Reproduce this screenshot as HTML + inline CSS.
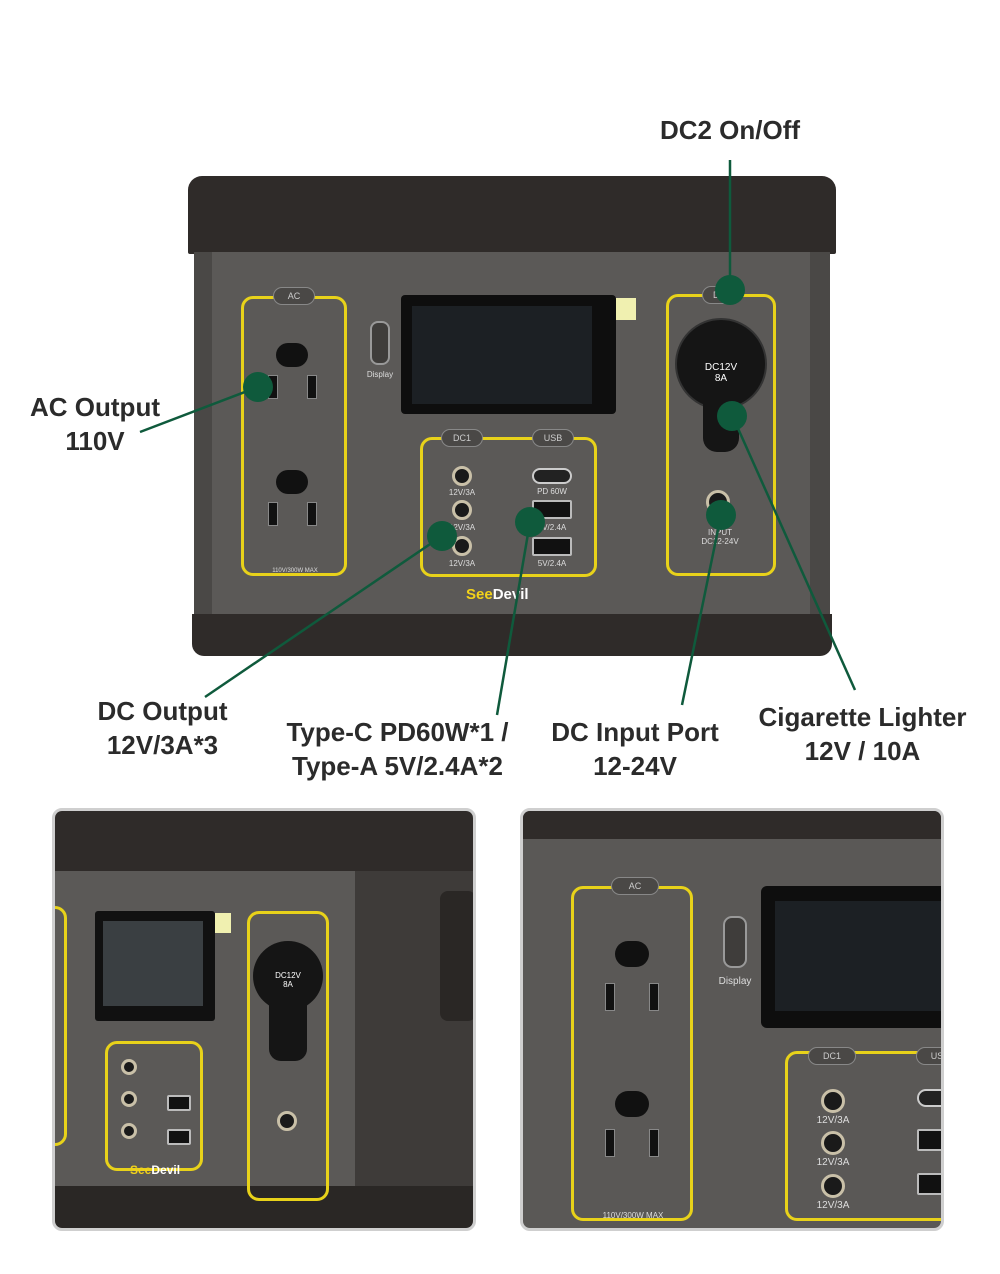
<!DOCTYPE html>
<html><head><meta charset="utf-8"><style>
*{margin:0;padding:0;box-sizing:border-box}
body{width:1000px;height:1274px;background:#fff;position:relative;overflow:hidden;font-family:"Liberation Sans",Arial,sans-serif}
.a{position:absolute}
.lbl{position:absolute;font-weight:bold;font-size:26px;color:#2b2b2b;text-align:center;line-height:34px}
.yb{position:absolute;border:3px solid #e8d21a;border-radius:12px}
.pill{position:absolute;background:#4a4846;border:1px solid #888;border-radius:9px;color:#ccc;font-size:9px;text-align:center;line-height:16px}
.sm{position:absolute;color:#ddd;font-size:8px;text-align:center}
.port{position:absolute;border-radius:50%;background:#1a1a1a;border:3px solid #c9c0a8}
.usb{position:absolute;background:#111;border:2px solid #bbb;border-radius:2px}
.dot{position:absolute;width:30px;height:30px;border-radius:50%;background:#0f5a3c}
.slot{position:absolute;background:#111;border:1px solid #888}
.ph{position:absolute;border:3px solid #cfcfcf;border-radius:10px;overflow:hidden;background:#5a5856}
</style></head><body>

<!-- main device -->
<div class="a" style="left:188px;top:176px;width:648px;height:78px;background:#2f2b29;border-radius:14px 14px 2px 2px"></div>
<div class="a" style="left:194px;top:252px;width:636px;height:366px;background:#5b5957"></div>
<div class="a" style="left:194px;top:252px;width:18px;height:366px;background:#4a4846"></div>
<div class="a" style="left:810px;top:252px;width:20px;height:366px;background:#4a4846"></div>
<div class="a" style="left:192px;top:614px;width:640px;height:42px;background:#2f2b29;border-radius:0 0 12px 12px"></div>

<!-- AC box -->
<div class="yb" style="left:241px;top:296px;width:106px;height:280px"></div>
<div class="pill" style="left:273px;top:287px;width:42px">AC</div>
<div class="a" style="left:276px;top:343px;width:32px;height:24px;background:#111;border-radius:12px"></div>
<div class="slot" style="left:268px;top:375px;width:10px;height:24px"></div>
<div class="slot" style="left:307px;top:375px;width:10px;height:24px"></div>
<div class="a" style="left:276px;top:470px;width:32px;height:24px;background:#111;border-radius:12px"></div>
<div class="slot" style="left:268px;top:502px;width:10px;height:24px"></div>
<div class="slot" style="left:307px;top:502px;width:10px;height:24px"></div>
<div class="sm" style="left:250px;top:568px;width:90px;font-size:6px">110V/300W MAX</div>

<!-- display -->
<div class="a" style="left:401px;top:295px;width:215px;height:119px;background:#0e0e0e;border-radius:4px"></div>
<div class="a" style="left:412px;top:306px;width:180px;height:98px;background:#1c2024"></div>
<div class="a" style="left:616px;top:298px;width:20px;height:22px;background:#f0f0b0"></div>
<div class="a" style="left:370px;top:321px;width:20px;height:44px;border:2px solid #999;border-radius:8px;background:#3f3d3b"></div>
<div class="sm" style="left:356px;top:370px;width:48px">Display</div>

<!-- DC/USB box -->
<div class="yb" style="left:420px;top:437px;width:177px;height:140px"></div>
<div class="pill" style="left:441px;top:429px;width:42px">DC1</div>
<div class="pill" style="left:532px;top:429px;width:42px">USB</div>
<div class="port" style="left:452px;top:466px;width:20px;height:20px"></div>
<div class="sm" style="left:440px;top:488px;width:44px">12V/3A</div>
<div class="port" style="left:452px;top:500px;width:20px;height:20px"></div>
<div class="sm" style="left:440px;top:523px;width:44px">12V/3A</div>
<div class="port" style="left:452px;top:536px;width:20px;height:20px"></div>
<div class="sm" style="left:440px;top:559px;width:44px">12V/3A</div>
<div class="a" style="left:532px;top:468px;width:40px;height:16px;border:2px solid #ccc;border-radius:8px;background:#222"></div>
<div class="sm" style="left:528px;top:487px;width:48px">PD 60W</div>
<div class="usb" style="left:532px;top:500px;width:40px;height:19px"></div>
<div class="sm" style="left:528px;top:523px;width:48px">5V/2.4A</div>
<div class="usb" style="left:532px;top:537px;width:40px;height:19px"></div>
<div class="sm" style="left:528px;top:559px;width:48px">5V/2.4A</div>
<div class="a" style="left:466px;top:586px;font-weight:bold;font-size:15px;color:#f2d21a">See<span style="color:#fff">Devil</span></div>

<!-- right box -->
<div class="yb" style="left:666px;top:294px;width:110px;height:282px"></div>
<div class="pill" style="left:702px;top:286px;width:40px">DC2</div>
<div class="a" style="left:675px;top:318px;width:92px;height:92px;border-radius:50%;background:#151515;border:2px solid #333"></div>
<div class="a" style="left:703px;top:400px;width:36px;height:52px;background:#151515;border-radius:0 0 14px 14px"></div>
<div class="sm" style="left:690px;top:362px;width:62px;font-size:10px;color:#fff">DC12V<br>8A</div>
<div class="port" style="left:706px;top:490px;width:24px;height:24px"></div>
<div class="sm" style="left:690px;top:528px;width:60px">INPUT<br>DC12-24V</div>

<!-- connectors -->
<svg class="a" style="left:0;top:0" width="1000" height="800">
<g stroke="#0f5a3c" stroke-width="2.5" fill="none">
<line x1="730" y1="160" x2="730" y2="290"/>
<line x1="140" y1="432" x2="258" y2="387"/>
<line x1="205" y1="697" x2="442" y2="536"/>
<line x1="497" y1="715" x2="530" y2="522"/>
<line x1="682" y1="705" x2="721" y2="515"/>
<line x1="855" y1="690" x2="732" y2="415"/>
</g></svg>
<div class="dot" style="left:715px;top:275px"></div>
<div class="dot" style="left:243px;top:372px"></div>
<div class="dot" style="left:717px;top:401px"></div>
<div class="dot" style="left:427px;top:521px"></div>
<div class="dot" style="left:515px;top:507px"></div>
<div class="dot" style="left:706px;top:500px"></div>

<!-- labels -->
<div class="lbl" style="left:630px;top:113px;width:200px">DC2 On/Off</div>
<div class="lbl" style="left:10px;top:390px;width:170px">AC Output<br>110V</div>
<div class="lbl" style="left:75px;top:694px;width:175px">DC Output<br>12V/3A*3</div>
<div class="lbl" style="left:260px;top:715px;width:275px">Type-C PD60W*1 /<br>Type-A 5V/2.4A*2</div>
<div class="lbl" style="left:535px;top:715px;width:200px">DC Input Port<br>12-24V</div>
<div class="lbl" style="left:740px;top:700px;width:245px">Cigarette Lighter<br>12V / 10A</div>

<!-- bottom left photo -->
<div class="ph" style="left:52px;top:808px;width:424px;height:423px;background:#fff">
 <div class="a" style="left:0;top:0;width:424px;height:60px;background:#2f2b29"></div>
 <div class="a" style="left:0;top:60px;width:300px;height:320px;background:#5b5957"></div>
 <div class="a" style="left:300px;top:60px;width:124px;height:320px;background:#3e3b39"></div>
 <div class="a" style="left:385px;top:80px;width:36px;height:130px;background:#2a2725;border-radius:8px"></div>
 <div class="a" style="left:0;top:375px;width:424px;height:48px;background:#2a2725"></div>
 <div class="yb" style="left:-20px;top:95px;width:32px;height:240px"></div>
 <div class="a" style="left:40px;top:100px;width:120px;height:110px;background:#111;border-radius:3px"></div>
 <div class="a" style="left:48px;top:110px;width:100px;height:85px;background:#3a3f42"></div>
 <div class="a" style="left:160px;top:102px;width:16px;height:20px;background:#f0f0b0"></div>
 <div class="yb" style="left:50px;top:230px;width:98px;height:130px"></div>
 <div class="port" style="left:66px;top:248px;width:16px;height:16px"></div>
 <div class="port" style="left:66px;top:280px;width:16px;height:16px"></div>
 <div class="port" style="left:66px;top:312px;width:16px;height:16px"></div>
 <div class="usb" style="left:112px;top:284px;width:24px;height:16px"></div>
 <div class="usb" style="left:112px;top:318px;width:24px;height:16px"></div>
 <div class="yb" style="left:192px;top:100px;width:82px;height:290px"></div>
 <div class="a" style="left:198px;top:130px;width:70px;height:70px;border-radius:50%;background:#151515"></div>
 <div class="sm" style="left:208px;top:160px;width:50px;color:#fff">DC12V<br>8A</div>
 <div class="a" style="left:214px;top:190px;width:38px;height:60px;background:#151515;border-radius:0 0 12px 12px"></div>
 <div class="port" style="left:222px;top:300px;width:20px;height:20px"></div>
 <div class="a" style="left:75px;top:352px;font-weight:bold;font-size:12px;color:#f2d21a">See<span style="color:#fff">Devil</span></div>
</div>

<!-- bottom right photo -->
<div class="ph" style="left:520px;top:808px;width:424px;height:423px">
 <div class="a" style="left:0;top:0;width:424px;height:28px;background:#2f2b29"></div>
 <div class="yb" style="left:48px;top:75px;width:122px;height:335px"></div>
 <div class="pill" style="left:88px;top:66px;width:48px">AC</div>
 <div class="a" style="left:92px;top:130px;width:34px;height:26px;background:#111;border-radius:13px"></div>
 <div class="slot" style="left:82px;top:172px;width:10px;height:28px"></div>
 <div class="slot" style="left:126px;top:172px;width:10px;height:28px"></div>
 <div class="a" style="left:92px;top:280px;width:34px;height:26px;background:#111;border-radius:13px"></div>
 <div class="slot" style="left:82px;top:318px;width:10px;height:28px"></div>
 <div class="slot" style="left:126px;top:318px;width:10px;height:28px"></div>
 <div class="sm" style="left:60px;top:400px;width:100px">110V/300W MAX</div>
 <div class="a" style="left:200px;top:105px;width:24px;height:52px;border:2px solid #999;border-radius:9px;background:#3f3d3b"></div>
 <div class="sm" style="left:186px;top:165px;width:52px;font-size:10px">Display</div>
 <div class="a" style="left:238px;top:75px;width:186px;height:142px;background:#0e0e0e;border-radius:6px"></div>
 <div class="a" style="left:252px;top:90px;width:172px;height:110px;background:#1c2024"></div>
 <div class="yb" style="left:262px;top:240px;width:180px;height:170px"></div>
 <div class="pill" style="left:285px;top:236px;width:48px">DC1</div>
 <div class="pill" style="left:393px;top:236px;width:48px">USB</div>
 <div class="port" style="left:298px;top:278px;width:24px;height:24px"></div>
 <div class="sm" style="left:284px;top:304px;width:52px;font-size:10px">12V/3A</div>
 <div class="port" style="left:298px;top:320px;width:24px;height:24px"></div>
 <div class="sm" style="left:284px;top:346px;width:52px;font-size:10px">12V/3A</div>
 <div class="port" style="left:298px;top:363px;width:24px;height:24px"></div>
 <div class="sm" style="left:284px;top:389px;width:52px;font-size:10px">12V/3A</div>
 <div class="a" style="left:394px;top:278px;width:40px;height:18px;border:2px solid #ccc;border-radius:9px;background:#222"></div>
 <div class="usb" style="left:394px;top:318px;width:40px;height:22px"></div>
 <div class="usb" style="left:394px;top:362px;width:40px;height:22px"></div>
</div>

</body></html>
